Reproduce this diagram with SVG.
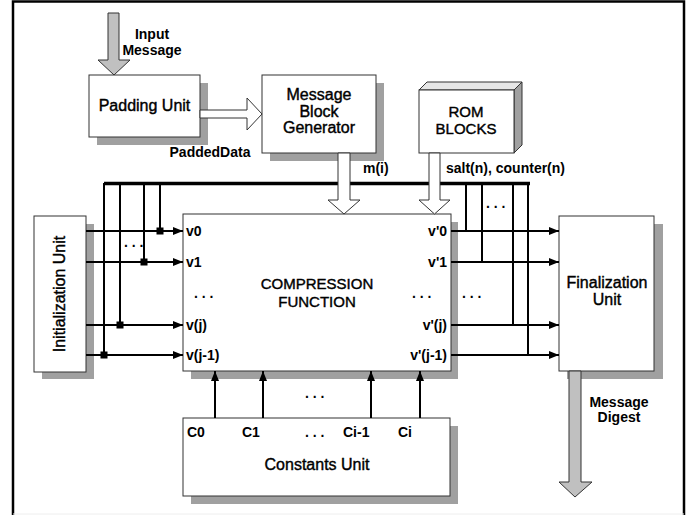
<svg xmlns="http://www.w3.org/2000/svg" width="690" height="515" viewBox="0 0 690 515">
  <defs>
    <marker id="ah" markerWidth="10" markerHeight="8" refX="10" refY="4" orient="auto" markerUnits="userSpaceOnUse">
      <path d="M0,0 L10,4 L0,8 Z" fill="#000"/>
    </marker>
  </defs>
  <style>
    text { font-family: "Liberation Sans", Arial, sans-serif; font-weight: bold; fill: #000; }
    .t14 { font-size: 14px; }
    /* block titles: regular face with a thin outline for a medium weight */
    .title { font-size: 16px; font-weight: normal; stroke: #000; stroke-width: 0.4; }
    .caps { font-size: 15px; font-weight: normal; stroke: #000; stroke-width: 0.4; }
    .box { fill: #fff; stroke: #333; stroke-width: 1; }
    .shadow { fill: #a0a0a0; }
    .wire { stroke: #000; stroke-width: 2; fill: none; }
    .arrow { stroke: #000; stroke-width: 2; fill: none; marker-end: url(#ah); }
    .bus { stroke: #000; stroke-width: 3.5; fill: none; }
    .hollow { fill: #fff; stroke: #333; stroke-width: 1; }
    .grey { fill: #c0c0c0; stroke: #333; stroke-width: 1; }
    .jn { fill: #000; }
  </style>

  <rect x="0" y="0" width="690" height="515" fill="#fff"/>
  <!-- outer frame, open at the bottom -->
  <path d="M13,515 V1.5 H684 V515" fill="none" stroke="#000" stroke-width="2.5"/>
  <line x1="13" y1="514" x2="684" y2="514" stroke="#eee" stroke-width="1"/>

  <!-- input message arrow -->
  <g id="input-arrow">
    <path class="grey" d="M108,13 H119 V60 H130 L114,75 L98,60 H108 Z"/>
    <text class="t14" x="152" y="39" text-anchor="middle">Input</text>
    <text class="t14" x="152" y="55" text-anchor="middle">Message</text>
  </g>

  <!-- padding unit -->
  <g id="padding-unit">
    <rect class="shadow" x="97" y="83" width="111" height="62"/>
    <rect class="box" x="89" y="75" width="111" height="62"/>
    <text class="title" x="144.5" y="111" text-anchor="middle">Padding Unit</text>
  </g>

  <!-- message block generator -->
  <g id="message-block-generator">
    <rect class="shadow" x="270" y="83" width="114" height="78"/>
    <rect class="box" x="262" y="75" width="114" height="78"/>
    <text class="title" x="319" y="100" text-anchor="middle">Message</text>
    <text class="title" x="319" y="117" text-anchor="middle">Block</text>
    <text class="title" x="319" y="133" text-anchor="middle">Generator</text>
  </g>

  <!-- ROM blocks (3D box) -->
  <g id="rom-blocks">
    <path d="M419,90 L427,82 H522 L514,90 Z" fill="#e6e6e6" stroke="#333" stroke-width="1"/>
    <path d="M514,90 L522,82 V145 L514,153 Z" fill="#a0a0a0" stroke="#333" stroke-width="1"/>
    <rect class="box" x="419" y="90" width="95" height="63"/>
    <text class="caps" x="466" y="117" text-anchor="middle">ROM</text>
    <text class="caps" x="466" y="134" text-anchor="middle">BLOCKS</text>
  </g>

  <!-- initialization unit -->
  <g id="initialization-unit">
    <rect class="shadow" x="42" y="224" width="52" height="155"/>
    <rect class="box" x="34" y="216" width="52" height="156"/>
    <text class="title" transform="translate(65,294) rotate(-90)" text-anchor="middle">Initialization Unit</text>
  </g>

  <!-- finalization unit -->
  <g id="finalization-unit">
    <rect class="shadow" x="567" y="224" width="96" height="155"/>
    <rect class="box" x="559" y="216" width="95" height="155"/>
    <text class="title" x="607" y="288" text-anchor="middle">Finalization</text>
    <text class="title" x="607" y="305" text-anchor="middle">Unit</text>
  </g>

  <!-- constants unit -->
  <g id="constants-unit">
    <rect class="shadow" x="191" y="426" width="267" height="78"/>
    <rect class="box" x="183" y="418" width="267" height="78"/>
    <text class="t14" x="187" y="437">C0</text>
    <text class="t14" x="242" y="437">C1</text>
    <text class="t14" x="305" y="437">. . .</text>
    <text class="t14" x="343" y="437">Ci-1</text>
    <text class="t14" x="398" y="437">Ci</text>
    <text class="title" x="317" y="470" text-anchor="middle">Constants Unit</text>
  </g>

  <!-- compression function -->
  <g id="compression-function">
    <rect class="shadow" x="191" y="222" width="267" height="157"/>
    <rect class="box" x="183" y="214" width="268" height="157"/>
    <text class="caps" x="317" y="289" text-anchor="middle">COMPRESSION</text>
    <text class="caps" x="317" y="307" text-anchor="middle">FUNCTION</text>
    <text class="t14" x="186" y="236">v0</text>
    <text class="t14" x="186" y="267">v1</text>
    <text class="t14" x="194" y="298">. . .</text>
    <text class="t14" x="186" y="330">v(j)</text>
    <text class="t14" x="186" y="360">v(j-1)</text>
    <text class="t14" x="447" y="236" text-anchor="end">v'0</text>
    <text class="t14" x="447" y="267" text-anchor="end">v'1</text>
    <text class="t14" x="412" y="298">. . .</text>
    <text class="t14" x="447" y="330" text-anchor="end">v'(j)</text>
    <text class="t14" x="447" y="360" text-anchor="end">v'(j-1)</text>
  </g>

  <g id="connectors">
    <!-- feedback bus -->
    <line class="bus" x1="104" y1="183.5" x2="530" y2="183.5"/>

    <!-- bus taps on the input side -->
    <path class="wire" d="M104,183 V355 M120,183 V325 M144,183 V262 M160,183 V231"/>
    <rect class="jn" x="156.5" y="227.5" width="7" height="7"/>
    <rect class="jn" x="140.5" y="258.5" width="7" height="7"/>
    <rect class="jn" x="116.5" y="321.5" width="7" height="7"/>
    <rect class="jn" x="100.5" y="351.5" width="7" height="7"/>
    <text class="t14" x="124" y="247">. . .</text>

    <!-- chaining values into the compression function -->
    <line class="arrow" x1="86" y1="231" x2="183" y2="231"/>
    <line class="arrow" x1="86" y1="262" x2="183" y2="262"/>
    <line class="arrow" x1="86" y1="325" x2="183" y2="325"/>
    <line class="arrow" x1="86" y1="355" x2="183" y2="355"/>

    <!-- bus taps on the output side -->
    <path class="wire" d="M466,183 V231 M482,183 V262 M513,183 V325 M528,183 V355"/>
    <text class="t14" x="486" y="208">. . .</text>
    <text class="t14" x="462" y="298">. . .</text>

    <!-- outputs into the finalization unit -->
    <line class="arrow" x1="451" y1="231" x2="559" y2="231"/>
    <line class="arrow" x1="451" y1="262" x2="559" y2="262"/>
    <line class="arrow" x1="451" y1="325" x2="559" y2="325"/>
    <line class="arrow" x1="451" y1="355" x2="559" y2="355"/>

    <!-- constants into the compression function -->
    <line class="arrow" x1="215" y1="418" x2="215" y2="371"/>
    <line class="arrow" x1="263" y1="418" x2="263" y2="371"/>
    <line class="arrow" x1="371" y1="418" x2="371" y2="371"/>
    <line class="arrow" x1="420" y1="418" x2="420" y2="371"/>
    <text class="t14" x="305" y="398">. . .</text>

    <!-- padded data -->
    <path class="hollow" d="M200,110 H247 V98 L262,114 L247,130 V118 H200 Z"/>
    <text class="t14" x="210" y="157" text-anchor="middle">PaddedData</text>

    <!-- m(i) -->
    <path class="hollow" d="M338,153 H350 V200 H360 L344,214 L328,200 H338 Z"/>
    <text class="t14" x="363" y="173">m(i)</text>

    <!-- salt(n), counter(n) -->
    <path class="hollow" d="M429,153 H440 V200 H450 L434.5,214 L419,200 H429 Z"/>
    <text class="t14" x="446" y="173">salt(n), counter(n)</text>

    <!-- message digest -->
    <path class="grey" d="M569,371 H581 V482 H592 L575,497 L559,482 H569 Z"/>
    <text class="t14" x="619" y="407" text-anchor="middle">Message</text>
    <text class="t14" x="619" y="422" text-anchor="middle">Digest</text>
  </g>
</svg>
